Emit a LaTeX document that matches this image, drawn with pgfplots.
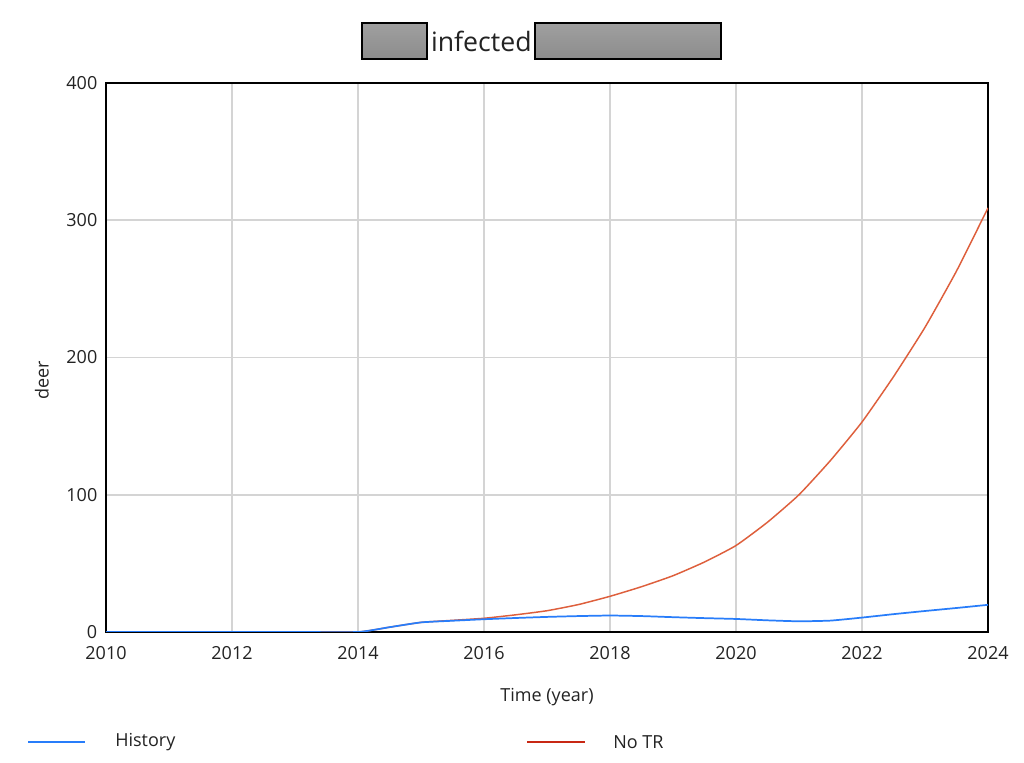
\documentclass[border=0pt]{standalone}
\usepackage{fontspec}
\setmainfont{Open Sans}
\usepackage{pgfplots}
\pgfplotsset{compat=1.18}
\definecolor{histc}{RGB}{40,125,250}
\definecolor{notrc}{RGB}{222,95,60}
\definecolor{notrleg}{RGB}{200,40,20}
\definecolor{gridc}{RGB}{212,212,212}
\definecolor{txt}{RGB}{35,35,35}

\pgfplotstableread{
year value
2010 0
2011 0
2012 0
2013 0
2014 0
2014.5 3.5
2015 7
2015.5 8.5
2016 10
2016.5 12.5
2017 15.5
2017.5 20
2018 26
2018.5 33
2019 41
2019.5 51
2020 63
2020.5 80
2021 100
2021.5 125
2022 153
2022.5 186
2023 222
2023.5 263
2024 309
}\notrtab

\pgfplotstableread{
year value
2010 0
2011 0
2012 0
2013 0
2014 0
2014.5 3.5
2015 7
2015.5 8.2
2016 9.3
2016.5 10.2
2017 11
2017.5 11.6
2018 12
2018.5 11.6
2019 10.8
2019.5 10.1
2020 9.5
2020.5 8.5
2021 7.8
2021.5 8.3
2022 10.5
2022.5 13
2023 15.3
2023.5 17.5
2024 19.8
}\histtab

\begin{document}
\begin{tikzpicture}
\useasboundingbox (0,0) rectangle (768pt,572.25pt);
\fill[white] (0,0) rectangle (768pt,572.25pt);

% title with the two blanked-out boxes
\shade[top color=gray!75, bottom color=gray!110!black, draw=black, line width=1pt]
  (271.5pt,528pt) rectangle (320.25pt,555pt);
\shade[top color=gray!75, bottom color=gray!110!black, draw=black, line width=1pt]
  (401.25pt,528pt) rectangle (540.75pt,555pt);
\node[anchor=base, font=\fontsize{20}{24}\selectfont, text=txt, inner sep=0pt] at (361pt,533.25pt) {infected};

\begin{axis}[
  at={(79.5pt,98.25pt)}, anchor=south west,
  scale only axis, width=661.5pt, height=411.75pt,
  xmin=2010, xmax=2024, ymin=0, ymax=400,
  xtick={2010,2012,...,2024}, ytick={0,100,...,400},
  major tick length=0pt,
  grid=major,
  major grid style={gridc, line width=1.3pt},
  axis line style={black, line width=2pt},
  tick label style={font=\fontsize{13.5}{16}\selectfont, text=txt},
  /pgf/number format/assume math mode=true,
  /pgf/number format/1000 sep={},
  xticklabel style={yshift=-7pt},
  yticklabel style={xshift=-3pt},
  xlabel={Time (year)}, ylabel={deer},
  label style={font=\fontsize{13.5}{16}\selectfont, text=txt},
  xlabel style={at={(axis description cs:0.5,-0.1184)}, anchor=center},
  ylabel style={at={(axis description cs:-0.0726,0.459)}, anchor=center, rotate=0},
]
\addplot[notrc, line width=1.1pt, smooth, tension=0.3] table[x=year, y=value] {\notrtab};
\addplot[histc, line width=1.3pt, smooth, tension=0.3] table[x=year, y=value] {\histtab};
\end{axis}

% legend
\draw[histc, line width=2pt] (21pt,15.75pt) -- (63.75pt,15.75pt);
\node[anchor=west, inner sep=0pt, font=\fontsize{13.5}{16}\selectfont, text=txt] at (86.25pt,15.75pt) {History};
\draw[notrleg, line width=2pt] (395.25pt,15.75pt) -- (438.75pt,15.75pt);
\node[anchor=west, inner sep=0pt, font=\fontsize{13.5}{16}\selectfont, text=txt] at (459.75pt,15.75pt) {No TR};
\end{tikzpicture}
\end{document}
